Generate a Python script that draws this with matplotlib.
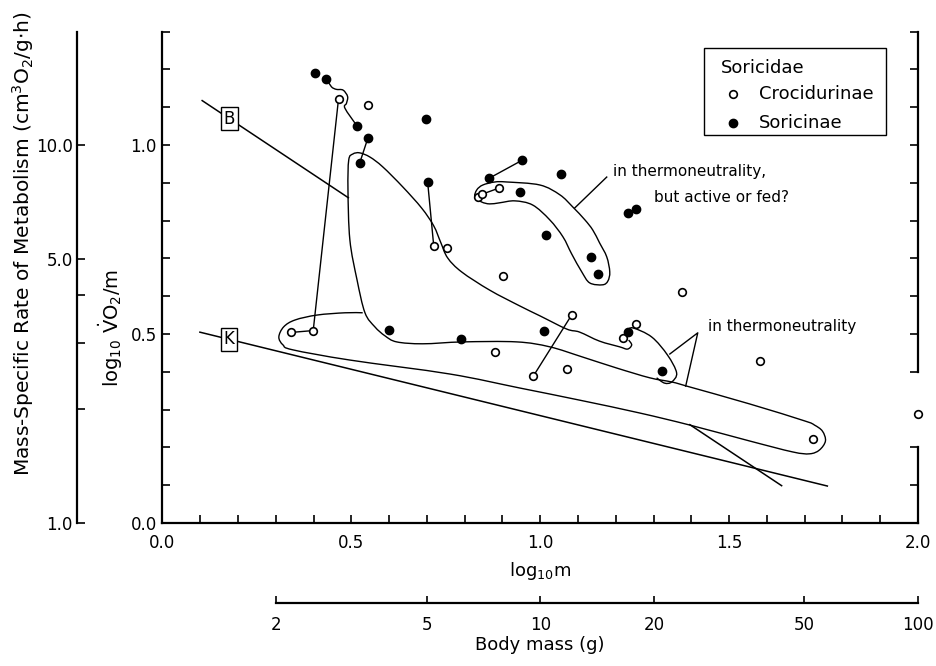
import numpy as np
import matplotlib
matplotlib.use("Agg")
import matplotlib.pyplot as plt
from matplotlib.path import Path
from matplotlib.patches import PathPatch, Rectangle
from matplotlib.lines import Line2D
from matplotlib.ticker import MultipleLocator, FixedLocator, FixedFormatter

plt.rcParams["font.family"] = "DejaVu Sans"
plt.rcParams["mathtext.default"] = "regular"

# ── data: log10 body mass (g) vs log10 mass-specific VO2 ─────────────────────
soricinae_x = [0.405, 0.434, 0.515, 0.544, 0.522, 0.697, 0.702, 0.865, 0.953, 1.056, 0.946,
               1.015, 1.134, 1.152, 1.232, 1.254, 0.600, 0.790, 1.011, 1.231, 1.321]
soricinae_y = [1.190, 1.175, 1.050, 1.019, 0.952, 1.068, 0.901, 0.912, 0.960, 0.922, 0.875,
               0.761, 0.704, 0.659, 0.819, 0.830, 0.511, 0.487, 0.508, 0.506, 0.403]

crocidurinae_x = [0.466, 0.544, 0.834, 0.847, 0.891, 0.718, 0.752, 0.902, 1.374, 0.340,
                  0.399, 0.879, 1.083, 0.982, 1.071, 1.220, 1.254, 1.583, 2.001, 1.722]
crocidurinae_y = [1.122, 1.106, 0.861, 0.870, 0.886, 0.733, 0.727, 0.652, 0.610, 0.504,
                  0.509, 0.451, 0.550, 0.389, 0.408, 0.489, 0.526, 0.429, 0.288, 0.222]

# same species measured twice: (group, index) pairs joined by a line
links = [("C", 0, "C", 10), ("C", 9, "C", 10), ("S", 3, "S", 4), ("S", 6, "C", 5),
         ("S", 7, "S", 8), ("C", 4, "C", 3), ("C", 12, "C", 13)]

# S1 -> S2 link bends round the open point between them
detour_x = [0.447, 0.460, 0.478, 0.490, 0.487, 0.483]
detour_y = [1.154, 1.147, 1.145, 1.128, 1.110, 1.097]

# reference lines  y = a + b*x
B_LINE = (1.187, -0.664)
B_SPANS = [(0.105, 0.492), (1.396, 1.639)]
K_LINE = (0.529, -0.245)
K_SPAN = (0.099, 1.760)

# hand-drawn envelopes
thermo_x = [1.234, 1.242, 1.231, 1.210, 1.157, 1.104, 1.070, 0.999, 0.946, 0.866, 0.792,
            0.755, 0.737, 0.718, 0.686, 0.636, 0.583, 0.549, 0.522, 0.504, 0.493,
            0.491, 0.496, 0.515, 0.536, 0.562, 0.589, 0.620, 0.689, 0.795, 0.938, 1.025,
            1.112, 1.202, 1.290, 1.348, 1.388, 1.554, 1.700, 1.726, 1.747, 1.755, 1.739,
            1.713, 1.668, 1.554, 1.396, 1.263, 1.104, 0.946, 0.761, 0.496, 0.345, 0.319,
            0.308, 0.321, 0.351, 0.409, 0.483, 0.530]
thermo_y = [0.484, 0.471, 0.460, 0.466, 0.481, 0.505, 0.513, 0.548, 0.574, 0.616, 0.664,
            0.701, 0.741, 0.786, 0.833, 0.889, 0.942, 0.968, 0.979, 0.976, 0.960,
            0.881, 0.749, 0.643, 0.556, 0.519, 0.495, 0.479, 0.474, 0.479, 0.479, 0.466,
            0.439, 0.410, 0.384, 0.373, 0.362, 0.315, 0.270, 0.259, 0.243, 0.217, 0.193,
            0.183, 0.188, 0.217, 0.259, 0.291, 0.325, 0.357, 0.394, 0.431, 0.458, 0.471,
            0.492, 0.519, 0.537, 0.550, 0.556, 0.556]

fed_x = [0.827, 0.832, 0.848, 0.880, 0.911, 0.999, 1.052, 1.086, 1.118, 1.139, 1.157, 1.176,
         1.184, 1.179, 1.165, 1.131, 1.110, 1.083, 1.060, 1.025, 0.980, 0.933, 0.893, 0.866,
         0.845, 0.827]
fed_y = [0.862, 0.881, 0.894, 0.902, 0.902, 0.894, 0.868, 0.836, 0.802, 0.775, 0.741, 0.704,
         0.664, 0.640, 0.630, 0.635, 0.664, 0.712, 0.757, 0.802, 0.841, 0.852, 0.847, 0.844,
         0.849, 0.862]

lobe_x = [1.231, 1.245, 1.295, 1.337, 1.361, 1.348, 1.329, 1.308]
lobe_y = [0.508, 0.516, 0.492, 0.444, 0.397, 0.373, 0.370, 0.384]

mass_ticks = [2, 5, 10, 20, 50, 100]
rate_ticks = [1, 2, 3, 4, 5, 10, 20]
rate_labels = ["1.0", "", "", "", "5.0", "10.0", ""]

W, H = 937, 666


def fx(px):
    return px / W


def fy(py):
    return 1 - py / H


def smooth_path(xs, ys, closed=False):
    """Catmull-Rom through the vertices, handed to matplotlib as cubic Beziers."""
    pts = np.column_stack([xs, ys])
    n = len(pts)
    verts, codes = [pts[0]], [Path.MOVETO]
    for i in range(n - 1):
        p0 = pts[i - 1] if i > 0 else (pts[-2] if closed else pts[0])
        p1, p2 = pts[i], pts[i + 1]
        p3 = pts[i + 2] if i + 2 < n else (pts[1] if closed else pts[-1])
        verts += [p1 + (p2 - p0) / 6, p2 - (p3 - p1) / 6, p2]
        codes += [Path.CURVE4] * 3
    return Path(verts, codes)


def bare_axes(rect):
    a = fig.add_axes(rect)
    a.patch.set_visible(False)
    for s in a.spines.values():
        s.set_visible(False)
    a.set_xticks([])
    a.set_yticks([])
    return a


LW = 1.0
fig = plt.figure(figsize=(W / 100, H / 100), dpi=100)
RECT = [fx(162.5), fy(523), fx(918) - fx(162.5), fy(31.5) - fy(523)]
ax = fig.add_axes(RECT)
ax.set_xlim(0, 2.0)
ax.set_ylim(0, 1.3)

for side in ("top", "right"):
    ax.spines[side].set_visible(False)
for side in ("left", "bottom"):
    ax.spines[side].set_linewidth(1.6)

ax.xaxis.set_major_locator(MultipleLocator(0.5))
ax.xaxis.set_minor_locator(MultipleLocator(0.1))
ax.yaxis.set_major_locator(MultipleLocator(0.5))
ax.yaxis.set_minor_locator(MultipleLocator(0.1))
ax.xaxis.set_major_formatter("{x:.1f}")
ax.yaxis.set_major_formatter("{x:.1f}")
ax.tick_params(which="both", direction="in", length=6, width=1.2)
ax.tick_params(axis="x", which="major", pad=8, labelsize=12)
ax.tick_params(axis="y", which="major", pad=4, labelsize=12)

# right-hand frame, broken around the point at log m = 2
for lo, hi in [(0.0, 0.2), (0.4, 1.3)]:
    r = bare_axes(RECT)
    r.set_xlim(0, 2.0)
    r.set_ylim(0, 1.3)
    r.spines["right"].set_visible(True)
    r.spines["right"].set_linewidth(1.6)
    r.spines["right"].set_bounds(lo, hi)
    r.yaxis.tick_right()
    r.set_yticks(np.round(np.arange(lo, hi + 0.01, 0.1), 1))
    r.set_yticklabels([])
    r.tick_params(axis="y", direction="in", length=6, width=1.2)

# outer scale: mass-specific rate in cm3 O2 / g h
o = bare_axes(RECT)
o.set_ylim(0, 1.3)
o.spines["left"].set_visible(True)
o.spines["left"].set_linewidth(1.6)
o.spines["left"].set_position(("outward", 61.5))
o.spines["left"].set_bounds(0, 1.3)
o.yaxis.set_major_locator(FixedLocator(np.log10(rate_ticks)))
o.yaxis.set_major_formatter(FixedFormatter(rate_labels))
o.tick_params(axis="y", direction="in", length=6, width=1.2, pad=3, labelsize=12)

# body mass scale under the log axis
bm = bare_axes([RECT[0], fy(603), RECT[2], 0.0001])
bm.set_xlim(0, 2.0)
bm.spines["bottom"].set_visible(True)
bm.spines["bottom"].set_linewidth(1.6)
bm.spines["bottom"].set_bounds(np.log10(2), 2.0)
bm.set_xticks(np.log10(mass_ticks))
bm.set_xticklabels([str(m) for m in mass_ticks])
bm.tick_params(axis="x", direction="in", length=5, width=1.2, pad=9.5, labelsize=12)

# reference lines
for x0, x1 in B_SPANS:
    xs = np.array([x0, x1])
    ax.plot(xs, B_LINE[0] + B_LINE[1] * xs, color="black", lw=1.1)
xs = np.array(K_SPAN)
ax.plot(xs, K_LINE[0] + K_LINE[1] * xs, color="black", lw=1.1)

box = dict(boxstyle="square,pad=0.15", fc="white", ec="black", lw=1.0)
ax.text(0.177, B_LINE[0] + B_LINE[1] * 0.177, "B", ha="center", va="center",
        fontsize=12, bbox=box, zorder=5)
ax.text(0.176, K_LINE[0] + K_LINE[1] * 0.176, "K", ha="center", va="center",
        fontsize=12, bbox=box, zorder=5)

# envelopes
for px, py, closed in [(thermo_x, thermo_y, False), (fed_x, fed_y, True),
                       (lobe_x, lobe_y, False)]:
    ax.add_patch(PathPatch(smooth_path(px, py, closed), fill=False, ec="black", lw=LW))

# links between repeated measurements
groups = {"S": (soricinae_x, soricinae_y), "C": (crocidurinae_x, crocidurinae_y)}
for g1, i1, g2, i2 in links:
    ax.plot([groups[g1][0][i1], groups[g2][0][i2]],
            [groups[g1][1][i1], groups[g2][1][i2]], color="black", lw=LW)
dx = [soricinae_x[1]] + detour_x + [soricinae_x[2]]
dy = [soricinae_y[1]] + detour_y + [soricinae_y[2]]
ax.add_patch(PathPatch(smooth_path(dx, dy), fill=False, ec="black", lw=LW))

OPEN = dict(marker="o", ms=5.5, mfc="white", mec="black", mew=1.2, ls="none")
FILLED = dict(marker="o", ms=6, mfc="black", mec="black", ls="none")
ax.plot(crocidurinae_x, crocidurinae_y, zorder=6, clip_on=False, **OPEN)
ax.plot(soricinae_x, soricinae_y, zorder=6, clip_on=False, **FILLED)

# annotations
ax.plot([1.176, 1.091], [0.915, 0.833], color="black", lw=LW)
ax.text(1.192, 0.929, "in thermoneutrality,", fontsize=11, va="center", ha="left")
ax.text(1.300, 0.860, "but active or fed?", fontsize=11, va="center", ha="left")
ax.plot([1.343, 1.417, 1.385], [0.447, 0.503, 0.362], color="black", lw=LW)
ax.text(1.443, 0.521, "in thermoneutrality", fontsize=11, va="center", ha="left")

# key box
fig.add_artist(Rectangle((fx(704), fy(135)), fx(886) - fx(704), fy(48) - fy(135),
                         transform=fig.transFigure, fill=False, ec="black", lw=1.0))
fig.text(fx(721), fy(68), "Soricidae", fontsize=13, va="center", ha="left")
for row_y, style, name in [(94, OPEN, "Crocidurinae"), (123, FILLED, "Soricinae")]:
    fig.add_artist(Line2D([fx(733)], [fy(row_y)], transform=fig.transFigure, **style))
    fig.text(fx(759), fy(row_y), name, fontsize=13, va="center", ha="left")

# axis titles
fig.text(fx(23), fy(244),
         r"Mass-Specific Rate of Metabolism (cm$^3$O$_2$/g$\cdot$h)",
         rotation=90, ha="center", va="center", fontsize=14.5)
fig.text(fx(111), fy(328), r"log$_{10}$ $\dot{V}$O$_2$/m",
         rotation=90, ha="center", va="center", fontsize=14)
fig.text(fx(540), fy(571), r"log$_{10}$m", ha="center", va="center", fontsize=13)
fig.text(fx(540), fy(645), "Body mass (g)", ha="center", va="center", fontsize=13)

fig.savefig("out.png", dpi=100)
